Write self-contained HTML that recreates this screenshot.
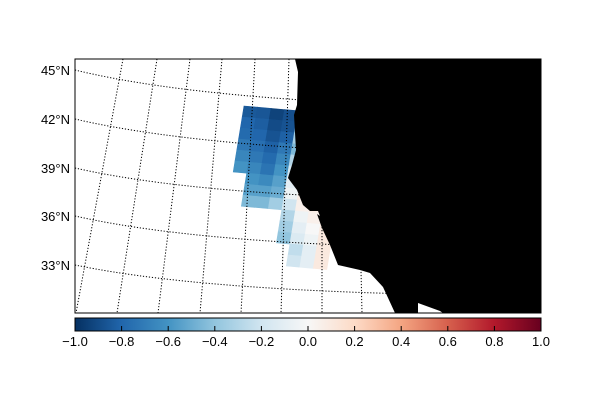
<!DOCTYPE html>
<html><head><meta charset="utf-8"><style>
body{margin:0;background:#fff;width:600px;height:400px;overflow:hidden}
svg{font-family:"Liberation Sans","DejaVu Sans",sans-serif}
</style></head><body>
<svg id="chart" width="600" height="400" viewBox="0 0 600 400">
<defs>
<clipPath id="mapclip"><rect x="75" y="59" width="466" height="254"/></clipPath>
<linearGradient id="cbgrad" x1="0" x2="1" y1="0" y2="0">
<stop offset="0" stop-color="#053061"/><stop offset="0.1" stop-color="#2166ac"/><stop offset="0.2" stop-color="#4393c3"/><stop offset="0.3" stop-color="#92c5de"/><stop offset="0.4" stop-color="#d1e5f0"/><stop offset="0.5" stop-color="#f7f7f7"/><stop offset="0.6" stop-color="#fddbc7"/><stop offset="0.7" stop-color="#f4a582"/><stop offset="0.8" stop-color="#d6604d"/><stop offset="0.9" stop-color="#b2182b"/><stop offset="1" stop-color="#67001f"/>
</linearGradient>
</defs>
<g id="map" clip-path="url(#mapclip)">
<g id="cells"></g>
<g id="grid" fill="none" stroke="#000" stroke-width="1" stroke-dasharray="1.2,1.8"></g>
<path fill="#000" d="M295,59 L298,72 L297,105 L294,115 L296,150 L292,165 L288,178 L297,190 L303,205 L310,211 L318,211 L320,216 L317,214 L322,228 L330,245 L338,265 L360,270 L370,273 L383,287 L395,313 L541,313 L541,59 Z"/>
<path fill="#fff" d="M418,303 L440,311 L443,313 L418,313 Z"/>
</g>
<rect x="75" y="59" width="466" height="254" fill="none" stroke="#000" stroke-width="1"/>
<g id="ylabels" font-size="13" text-anchor="end" fill="#000"></g>
<rect x="75" y="318" width="466" height="13" fill="url(#cbgrad)" stroke="#000" stroke-width="1"/>
<g id="cbticks" font-size="13" text-anchor="middle" fill="#000"></g>
</svg>
<script>
const latLabels=["45°N","42°N","39°N","36°N","33°N"];
const latLeftY=[70,119,168,216,265];
const latMidY=[95,143,191,239,286];
const latRightY=[99,147,194,242,289];
const merTopX=[123,157,190,222,255,289,322,356,390];
const merBotX=[76,117,158,200,241,281,322,362,403];
const cbTicks=[-1.0,-0.8,-0.6,-0.4,-0.2,0.0,0.2,0.4,0.6,0.8,1.0];
const cellValues=[
[-0.85,-0.86,-0.93,-0.88,null,null,null,null],
[-0.80,-0.83,-0.90,-0.87,-0.40,null,null,null],
[-0.78,-0.80,-0.87,-0.82,-0.35,null,null,null],
[-0.72,-0.76,-0.82,-0.72,-0.45,null,null,null],
[-0.66,-0.72,-0.78,-0.66,-0.30,null,null,null],
[-0.60,-0.66,-0.74,-0.60,-0.20,0.05,null,null],
[null,-0.60,-0.64,-0.55,-0.10,0.05,null,null],
[null,-0.55,-0.55,-0.50,-0.05,0.08,null,null],
[null,-0.45,-0.45,-0.35,-0.20,0.05,0.08,null],
[null,null,null,null,-0.30,-0.05,0.05,0.10],
[null,null,null,null,-0.35,-0.10,0.00,0.10],
[null,null,null,null,-0.40,-0.15,-0.05,0.10],
[null,null,null,null,null,-0.25,-0.10,0.10],
[null,null,null,null,null,-0.20,-0.10,0.10]
];
const NS="http://www.w3.org/2000/svg";
const stops=["#053061","#2166ac","#4393c3","#92c5de","#d1e5f0","#f7f7f7","#fddbc7","#f4a582","#d6604d","#b2182b","#67001f"];
function hex(h){return [1,3,5].map(i=>parseInt(h.substr(i,2),16));}
function cmap(v){let t=(Math.max(-1,Math.min(1,v))+1)/2*10;let i=Math.min(9,Math.floor(t));let f=t-i;let a=hex(stops[i]),b=hex(stops[i+1]);return "rgb("+a.map((x,k)=>Math.round(x+(b[k]-x)*f)).join(",")+")";}
const cbX=v=>75+(v+1)/2*466;
const ox=244,oy=106,ux=13.5,uy=1.2,vx=-1.8,vy=11;
const cellX=(r,c)=>ox+c*ux+r*vx, cellY=(r,c)=>oy+c*uy+r*vy;
const cells=document.getElementById('cells');
cellValues.forEach((row,r)=>row.forEach((v,c)=>{
 if(v===null)return;
 const p=document.createElementNS(NS,'polygon');
 const pts=[[0,0],[1,0],[1,1],[0,1]].map(([a,b])=>[cellX(r+b,c+a),cellY(r+b,c+a)].join(',')).join(' ');
 p.setAttribute('points',pts);p.setAttribute('fill',cmap(v));p.setAttribute('stroke',cmap(v));p.setAttribute('stroke-width','0.6');
 
 
 cells.appendChild(p);
}));
const grid=document.getElementById('grid');
latLabels.forEach((l,i)=>{
 const p=document.createElementNS(NS,'path');
 p.setAttribute('d',`M75,${latLeftY[i]} Q220,${2*latMidY[i]-(latLeftY[i]+latRightY[i])/2} 541,${latRightY[i]+ (latRightY[i]-latMidY[i])*2.2}`);
 
 
 grid.appendChild(p);
 const t=document.createElementNS(NS,'text');
 t.setAttribute('x',70);t.setAttribute('y',latLeftY[i]+5);t.textContent=l;
 
 
 document.getElementById('ylabels').appendChild(t);
});
merTopX.forEach((x,i)=>{
 const p=document.createElementNS(NS,'line');
 p.setAttribute('x1',x);p.setAttribute('y1',59);p.setAttribute('x2',merBotX[i]);p.setAttribute('y2',313);
 
 
 grid.appendChild(p);
});
const cbt=document.getElementById('cbticks');
cbTicks.forEach(v=>{
 const x=cbX(v);
 if(v>-1&&v<1){const l=document.createElementNS(NS,'line');l.setAttribute('x1',x);l.setAttribute('x2',x);l.setAttribute('y1',331);l.setAttribute('y2',326);l.setAttribute('stroke','#000');
 
 
 cbt.appendChild(l);}
 const t=document.createElementNS(NS,'text');t.setAttribute('x',x);t.setAttribute('y',346);t.textContent=(v<0?"\u2212":"")+Math.abs(v).toFixed(1);
 
 
 cbt.appendChild(t);
});
</script>
</body></html>
